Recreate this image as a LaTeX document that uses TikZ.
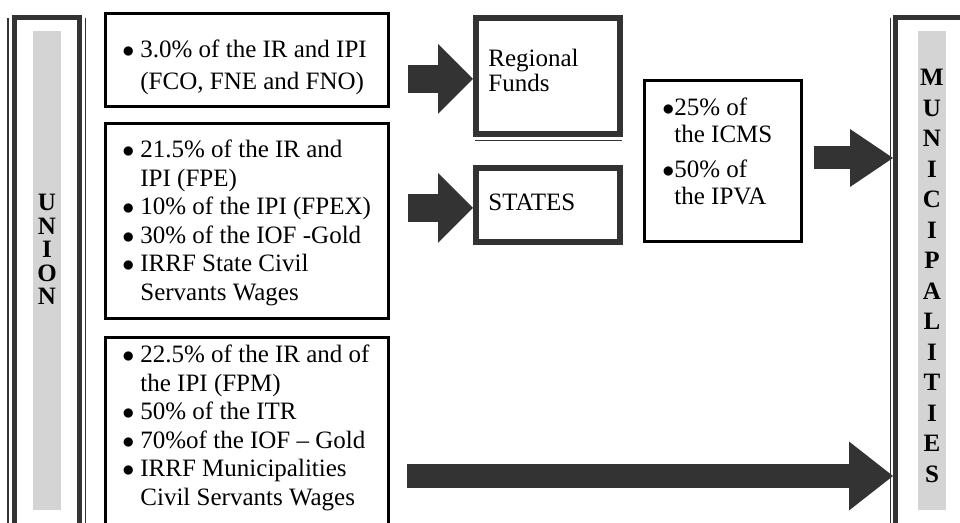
\documentclass[tikz,border=0pt]{standalone}
\usepackage{fontspec}
\setmainfont{Liberation Serif}
\usepackage{xcolor}
\usetikzlibrary{arrows.meta, calc}
\definecolor{framegray}{RGB}{51,51,51}
\definecolor{colgray}{RGB}{212,212,212}
\tikzstyle{listbox} = [draw=black, line width=1.4pt, inner sep=0pt]
\tikzstyle{thickbox} = [draw=framegray, line width=3pt, inner sep=0pt]
\tikzstyle{colframe} = [draw=framegray, line width=2.5pt, inner sep=0pt]
\tikzstyle{thinline} = [draw=framegray, line width=0.6pt]
\tikzstyle{txt} = [anchor=base west, inner sep=0pt, font=\fontsize{12.5}{15}\selectfont]
\tikzstyle{colletter} = [anchor=base, inner sep=0pt, font=\fontsize{12.5}{15}\selectfont\bfseries]
\tikzset{fatarrow/.style n args={3}{draw=framegray, line width=#1,
  -{Triangle[length=#2, width=#3, line width=0pt, fill=framegray]}}}
\newcommand{\bitem}{\llap{$\bullet$\hspace{3pt}}}

\begin{document}
\begin{tikzpicture}[x=0.5pt,y=-0.5pt]
\useasboundingbox (0,0) rectangle (960,523);

% Union column
\fill[colgray] (33,31) rectangle (61,510);
\node[colframe, minimum width=32.5pt, minimum height=270pt] (union) at (47,287.5) {};
\draw[thinline] ([xshift=-2pt,yshift=-1.5pt]union.north west) -- ([xshift=-2pt]union.south west);
\draw[thinline] ([xshift=1.75pt,yshift=-1.5pt]union.north east) -- ([xshift=1.75pt]union.south east);
\foreach \ch [count=\i] in {U,N,I,O,N}
  \node[colletter] (u\i) at (47,211+23.5*\i-23.5) {\ch};

% Municipalities column
\fill[colgray] (918,31) rectangle (946,510);
\node[colframe, minimum width=38.5pt, minimum height=270pt] (muni) at (934,287.5) {};
\draw[thinline] ([xshift=-1.25pt,yshift=-1.5pt]muni.north west) -- ([xshift=-1.25pt]muni.south west);
\foreach \ch [count=\i] in {M,U,N,I,C,I,P,A,L,I,T,I,E,S}
  \node[colletter] (m\i) at (932,86+30.5*\i-30.5) {\ch};

% Transfer boxes
\node[listbox, minimum width=141.5pt, minimum height=46.5pt] (fco) at (247,60) {};
\node[txt] (fco1) at (140,58) {\bitem 3.0\% of the IR and IPI};
\node[txt] (fco2) at (140,90) {(FCO, FNE and FNO)};

\node[listbox, minimum width=141.5pt, minimum height=97.6pt] (fpe) at (247,221) {};
\foreach \txt [count=\i] in {\bitem 21.5\% of the IR and, IPI (FPE),
    \bitem 10\% of the IPI (FPEX), \bitem 30\% of the IOF -Gold,
    \bitem IRRF State Civil, Servants Wages}
  \node[txt] (fpe\i) at (140,158+28.5*\i-28.5) {\txt};

\node[listbox, minimum width=141.5pt, minimum height=112.6pt] (fpm) at (247,450) {};
\foreach \txt [count=\i] in {\bitem 22.5\% of the IR and of, the IPI (FPM),
    \bitem 50\% of the ITR, \bitem 70\%of the IOF -- Gold,
    \bitem IRRF Municipalities, Civil Servants Wages}
  \node[txt] (fpm\i) at (140,363+28.5*\i-28.5) {\txt};

% Receivers
\node[thickbox, minimum width=72pt, minimum height=58pt] (regional) at (548,76) {};
\draw[thinline] ([xshift=1pt,yshift=-1.75pt]regional.south west) -- ([xshift=-0.5pt,yshift=-1.75pt]regional.south east);
\node[txt] (reg1) at (488,67) {Regional};
\node[txt] (reg2) at (488,92) {Funds};

\node[thickbox, minimum width=72pt, minimum height=37pt] (states) at (548,205) {};
\node[txt] (st1) at (488,211) {STATES};

% State share to municipalities
\node[draw=black, line width=1.3pt, inner sep=0pt, minimum width=78.7pt, minimum height=80.7pt] (icms) at (723,161) {};
\node[txt] (icms1) at (674,116) {\llap{$\bullet$}25\% of};
\node[txt] (icms2) at (674,143) {the ICMS};
\node[txt] (icms3) at (674,178) {\llap{$\bullet$}50\% of};
\node[txt] (icms4) at (674,205) {the IPVA};

% Arrows
\draw[fatarrow={14pt}{17.5pt}{35pt}] ([shift={(9pt,-9.5pt)}]fco.east) coordinate (a1) -- (a1 -| regional.west);
\draw[fatarrow={14pt}{17.5pt}{35pt}] ([shift={(9pt,6.5pt)}]fpe.east) coordinate (b1) -- (b1 -| states.west);
\draw[fatarrow={11.5pt}{21.5pt}{29pt}] ([shift={(5.5pt,1.5pt)}]icms.east) coordinate (c1) -- (c1 -| muni.west);
\draw[fatarrow={12pt}{22pt}{34.5pt}] ([shift={(8.5pt,-13pt)}]fpm.east) coordinate (d1) -- (d1 -| muni.west);
\end{tikzpicture}
\end{document}
